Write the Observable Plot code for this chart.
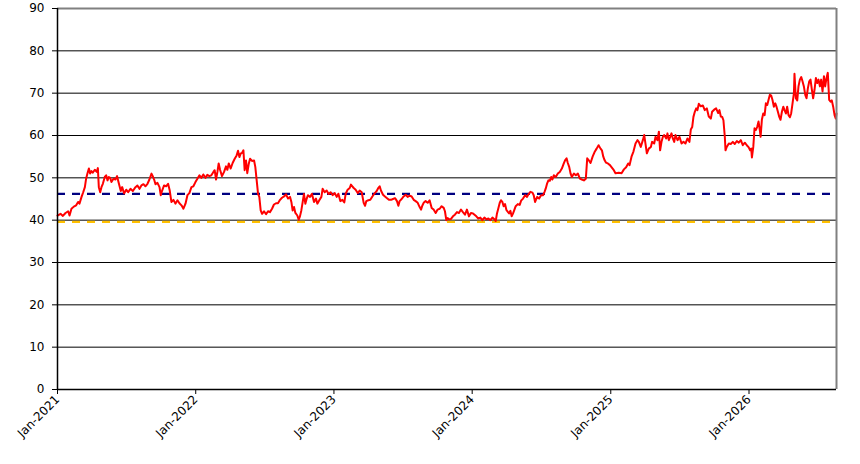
<!DOCTYPE html>
<html>
<head>
<meta charset="utf-8">
<script src="https://cdn.jsdelivr.net/npm/d3@7"></script>
<script src="https://cdn.jsdelivr.net/npm/@observablehq/plot@0.6"></script>
<style>
  html, body { margin: 0; padding: 0; background: #ffffff; }
  #chart { width: 860px; height: 464px; }
</style>
</head>
<body>
<div id="chart"></div>
<script>
// Time in decimal years
const years = [
2021.000,2021.022,2021.039,2021.058,2021.077,2021.087,2021.101,2021.118,2021.135,2021.149,
2021.159,2021.174,2021.186,2021.198,2021.207,2021.217,2021.227,2021.236,2021.246,2021.255,
2021.270,2021.284,2021.292,2021.299,2021.309,2021.318,2021.328,2021.342,2021.352,2021.362,
2021.371,2021.381,2021.390,2021.405,2021.419,2021.431,2021.443,2021.458,2021.468,2021.482,
2021.497,2021.511,2021.528,2021.545,2021.564,2021.578,2021.593,2021.607,2021.622,2021.636,
2021.651,2021.665,2021.680,2021.689,2021.699,2021.709,2021.723,2021.738,2021.747,2021.757,
2021.771,2021.786,2021.800,2021.812,2021.824,2021.839,2021.853,2021.868,2021.882,2021.897,
2021.911,2021.926,2021.940,2021.954,2021.969,2021.983,2021.998,2022.012,2022.027,
2022.041,2022.055,2022.070,2022.084,2022.099,2022.113,2022.128,2022.137,2022.147,2022.157,
2022.166,2022.176,2022.190,2022.205,2022.219,2022.229,2022.239,2022.253,2022.267,2022.282,
2022.296,2022.306,2022.316,2022.325,2022.335,2022.345,2022.354,2022.364,2022.373,2022.383,
2022.393,2022.407,2022.422,2022.431,2022.441,2022.451,2022.460,2022.470,2022.480,2022.494,
2022.509,2022.523,2022.537,2022.552,2022.566,2022.581,2022.595,2022.610,2022.624,2022.639,
2022.653,2022.668,2022.682,2022.692,2022.701,2022.711,2022.721,2022.735,2022.745,2022.754,
2022.764,2022.774,2022.783,2022.793,2022.803,2022.812,2022.827,2022.841,2022.856,2022.870,
2022.880,2022.894,2022.909,2022.918,2022.933,2022.947,2022.962,2022.976,2022.991,2023.005,
2023.020,
2023.032,2023.046,2023.061,2023.075,2023.085,2023.099,2023.114,2023.123,2023.133,2023.143,
2023.157,2023.172,2023.186,2023.201,2023.215,2023.225,2023.234,2023.249,2023.263,2023.278,
2023.292,2023.307,2023.321,2023.331,2023.340,2023.355,2023.369,2023.384,2023.398,2023.413,
2023.427,2023.442,2023.456,2023.466,2023.475,2023.490,2023.504,2023.519,2023.533,2023.548,
2023.562,2023.577,2023.591,2023.606,2023.620,2023.630,2023.639,2023.649,2023.663,2023.678,
2023.692,2023.707,2023.721,2023.736,2023.750,2023.765,2023.779,2023.794,2023.803,2023.813,
2023.822,2023.832,2023.847,2023.861,2023.875,2023.890,2023.904,2023.919,2023.933,2023.948,
2023.962,2023.977,2023.991,2024.006,
2024.030,2024.044,2024.059,2024.073,2024.088,2024.102,2024.117,2024.131,2024.146,2024.160,
2024.170,2024.179,2024.189,2024.199,2024.208,2024.218,2024.227,2024.237,2024.247,2024.256,
2024.266,2024.276,2024.285,2024.295,2024.305,2024.314,2024.329,2024.343,2024.353,2024.367,
2024.382,2024.396,2024.406,2024.420,2024.435,2024.444,2024.454,2024.469,2024.483,2024.497,
2024.512,2024.522,2024.531,2024.541,2024.550,2024.560,2024.570,2024.579,2024.589,2024.603,
2024.618,2024.632,2024.647,2024.661,2024.671,2024.681,2024.690,2024.700,2024.710,2024.719,
2024.734,2024.748,2024.763,2024.777,2024.791,2024.806,2024.820,2024.830,2024.840,2024.854,
2024.869,2024.883,2024.898,2024.912,2024.926,2024.936,2024.946,2024.955,2024.965,2024.979,
2024.994,2025.008,
2025.022,2025.034,2025.058,2025.078,2025.095,2025.111,2025.126,2025.136,2025.150,2025.164,
2025.179,2025.193,2025.203,2025.217,2025.232,2025.242,2025.251,2025.261,2025.275,2025.290,
2025.299,2025.314,2025.324,2025.338,2025.348,2025.357,2025.367,2025.377,2025.386,2025.401,
2025.410,2025.420,2025.430,2025.439,2025.449,2025.459,2025.468,2025.483,2025.497,2025.512,
2025.526,2025.540,2025.555,2025.569,2025.579,2025.589,2025.598,2025.608,2025.618,2025.627,
2025.637,2025.651,2025.666,2025.680,2025.695,2025.709,2025.724,2025.733,2025.748,2025.762,
2025.777,2025.786,2025.796,2025.806,2025.815,2025.825,2025.830,2025.839,2025.854,2025.868,
2025.883,2025.897,2025.912,2025.926,2025.941,2025.955,2025.970,2025.984,2025.998,2026.008,
2026.016,2026.021,2026.031,2026.040,2026.050,2026.060,2026.069,2026.079,2026.084,2026.093,
2026.103,2026.113,2026.122,2026.132,2026.141,2026.151,2026.161,2026.170,2026.180,2026.190,
2026.199,2026.209,2026.219,2026.228,2026.238,2026.248,2026.257,2026.267,2026.276,2026.286,
2026.296,2026.305,2026.315,2026.325,2026.329,2026.339,2026.349,2026.358,2026.368,2026.378,
2026.387,2026.397,2026.407,2026.416,2026.426,2026.436,2026.445,2026.455,2026.464,2026.474,
2026.484,2026.493,2026.503,2026.513,2026.522,2026.532,2026.542,2026.551,2026.561,2026.570,
2026.580,2026.590,2026.599,2026.609,2026.619,2026.628,2026.633
];

const values = [
41.1,41.5,41.0,41.7,42.1,41.1,42.7,43.2,43.5,44.3,
43.9,45.5,46.6,47.8,49.8,51.1,52.2,51.0,51.6,51.2,
51.9,51.4,52.3,47.8,46.6,47.8,48.6,50.2,50.6,49.4,
50.2,50.0,49.0,49.8,49.6,50.4,48.8,46.9,47.8,46.3,
47.2,46.6,47.4,46.9,47.8,48.2,47.4,48.2,48.5,48.0,
48.6,49.6,51.0,50.4,49.6,48.5,48.8,47.8,45.9,47.0,
48.2,48.0,48.6,47.0,44.3,44.8,43.9,44.7,44.0,43.5,
42.7,43.9,45.9,46.4,47.8,48.0,49.0,49.8,50.6,
50.0,50.8,50.0,50.7,50.4,50.6,51.4,51.8,49.6,51.4,
53.4,51.9,50.4,51.4,52.7,51.9,53.4,52.2,53.5,54.5,
55.3,56.4,54.9,55.7,55.9,56.5,51.8,54.1,51.1,53.2,
54.5,54.0,54.1,52.6,49.4,46.2,45.5,42.3,41.5,42.1,
41.4,42.1,41.9,42.7,43.7,44.0,44.0,44.8,45.3,45.6,
46.1,45.1,45.5,44.3,42.3,43.1,41.7,41.1,40.1,40.9,
42.3,44.3,46.2,43.9,45.1,45.9,45.5,46.2,44.3,45.1,
43.9,44.7,45.5,47.4,46.6,47.0,46.2,46.6,45.9,46.4,
45.5,
46.25,44.5,44.8,44.2,46.25,47.2,47.6,48.4,48.0,47.6,
47.2,46.4,47.0,46.6,44.1,43.4,44.5,44.7,44.8,45.6,
46.25,46.8,47.6,48.0,47.0,46.0,45.6,45.2,44.8,44.8,
45.0,45.2,44.5,43.4,44.5,45.0,45.6,46.0,45.5,45.8,
45.6,44.8,44.5,44.1,43.1,42.5,43.4,44.1,44.5,44.1,
44.7,42.9,42.5,41.7,42.5,42.7,43.3,42.9,42.1,40.0,
40.5,40.2,40.3,40.9,41.3,41.9,41.7,42.5,41.9,41.3,
42.5,40.9,41.7,41.6,
40.9,40.4,40.6,40.0,40.6,40.2,40.4,40.0,40.6,40.2,
39.8,41.6,42.8,44.1,44.7,44.3,43.3,43.8,42.4,42.0,
41.6,42.2,40.9,41.6,42.5,43.3,43.8,43.6,44.6,45.1,
45.9,45.5,46.1,46.7,46.5,45.9,44.3,45.5,45.1,45.9,
45.9,46.7,47.5,48.7,49.4,49.3,50.2,49.6,50.6,50.2,
51.0,51.4,52.2,53.4,54.2,54.6,53.5,52.6,51.0,50.2,
51.0,50.6,51.0,49.8,49.6,49.4,49.8,54.6,54.2,53.5,
55.0,56.1,56.9,57.7,56.9,56.5,55.0,54.2,53.6,53.4,
53.0,52.4,
51.8,51.1,51.2,51.1,52.0,52.5,53.4,53.0,55.0,56.2,
58.1,58.9,58.5,57.3,58.9,60.1,58.1,55.8,56.9,57.3,
58.5,58.1,59.7,58.9,60.9,56.5,58.5,59.7,60.1,59.3,
60.5,58.9,59.7,60.5,59.3,58.5,60.1,58.9,59.7,58.1,
58.5,58.1,59.3,58.5,61.4,62.0,64.4,65.6,66.4,66.0,
67.5,66.9,67.1,66.0,66.4,64.5,64.0,65.6,66.1,66.4,
65.3,66.0,64.5,64.4,63.6,59.7,56.5,57.3,58.1,58.0,
58.5,58.0,58.7,58.3,58.9,57.7,58.3,57.7,57.2,56.5,
56.9,54.8,57.3,61.7,61.3,62.1,63.3,61.1,59.7,63.7,
65.2,64.8,67.6,67.2,68.4,69.6,69.4,68.4,66.8,67.6,
66.8,65.6,64.4,63.7,65.6,66.8,66.0,65.2,66.8,64.8,
64.3,65.2,67.6,70.0,74.6,68.8,68.3,71.6,73.2,73.8,
72.8,71.6,69.6,68.8,71.2,72.8,73.2,70.8,68.8,70.8,
73.6,72.4,73.2,71.6,73.2,70.4,74.0,71.6,73.6,74.8,
68.4,68.0,68.3,66.8,64.8,64.0,65.2
];

const upperLevel = 46.2;   // navy dashed line
const lowerLevel = 39.6;   // orange dashed line
const yTicks = [0, 10, 20, 30, 40, 50, 60, 70, 80, 90];
const gridLevels = [10, 20, 30, 40, 50, 60, 70, 80];
const xTickYears = [2021, 2022, 2023, 2024, 2025, 2026];

function toDate(y) {
  const yr = Math.floor(y + 1e-9);
  const s = Date.UTC(yr, 0, 1), e = Date.UTC(yr + 1, 0, 1);
  return new Date(s + (y - yr) * (e - s));
}

const data = years.map((y, i) => ({date: toDate(y), value: values[i]}));
const xStart = toDate(years[0]);
const xEnd = toDate(years[years.length - 1]);
const xTicks = xTickYears.map(y => new Date(Date.UTC(y, 0, 1)));

const chart = Plot.plot({
  width: 860,
  height: 464,
  marginLeft: 57,
  marginRight: 24,
  marginTop: 8,
  marginBottom: 75,
  style: {fontFamily: "DejaVu Sans, sans-serif", fontSize: "12px", background: "#ffffff", color: "#000000", overflow: "visible"},
  x: {type: "utc", domain: [xStart, xEnd]},
  y: {domain: [0, 90]},
  marks: [
    Plot.ruleY(gridLevels, {stroke: "#000000", strokeWidth: 1, strokeOpacity: 1}),
    Plot.ruleY([lowerLevel], {stroke: "#ffc000", strokeWidth: 2.2, strokeDasharray: "8,7"}),
    Plot.ruleY([upperLevel], {stroke: "#000080", strokeWidth: 2.2, strokeDasharray: "8,7"}),
    Plot.lineY(data, {x: "date", y: "value", stroke: "#ff0000", strokeWidth: 2}),
    Plot.ruleY([90], {stroke: "#808080", strokeWidth: 2}),
    Plot.ruleX([xEnd], {stroke: "#808080", strokeWidth: 2}),
    Plot.ruleX([xStart], {stroke: "#000000", strokeWidth: 1.5}),
    Plot.ruleY([0], {stroke: "#000000", strokeWidth: 1.5}),
    Plot.axisY({ticks: yTicks, tickSize: 5, tickPadding: 8, label: null, stroke: "#000000"}),
    Plot.axisX({ticks: xTicks, tickFormat: d3.utcFormat("%b-%Y"), tickRotate: -45, tickSize: 5, tickPadding: 3, label: null, stroke: "#000000"})
  ]
});
document.getElementById("chart").appendChild(chart);
</script>
</body>
</html>
